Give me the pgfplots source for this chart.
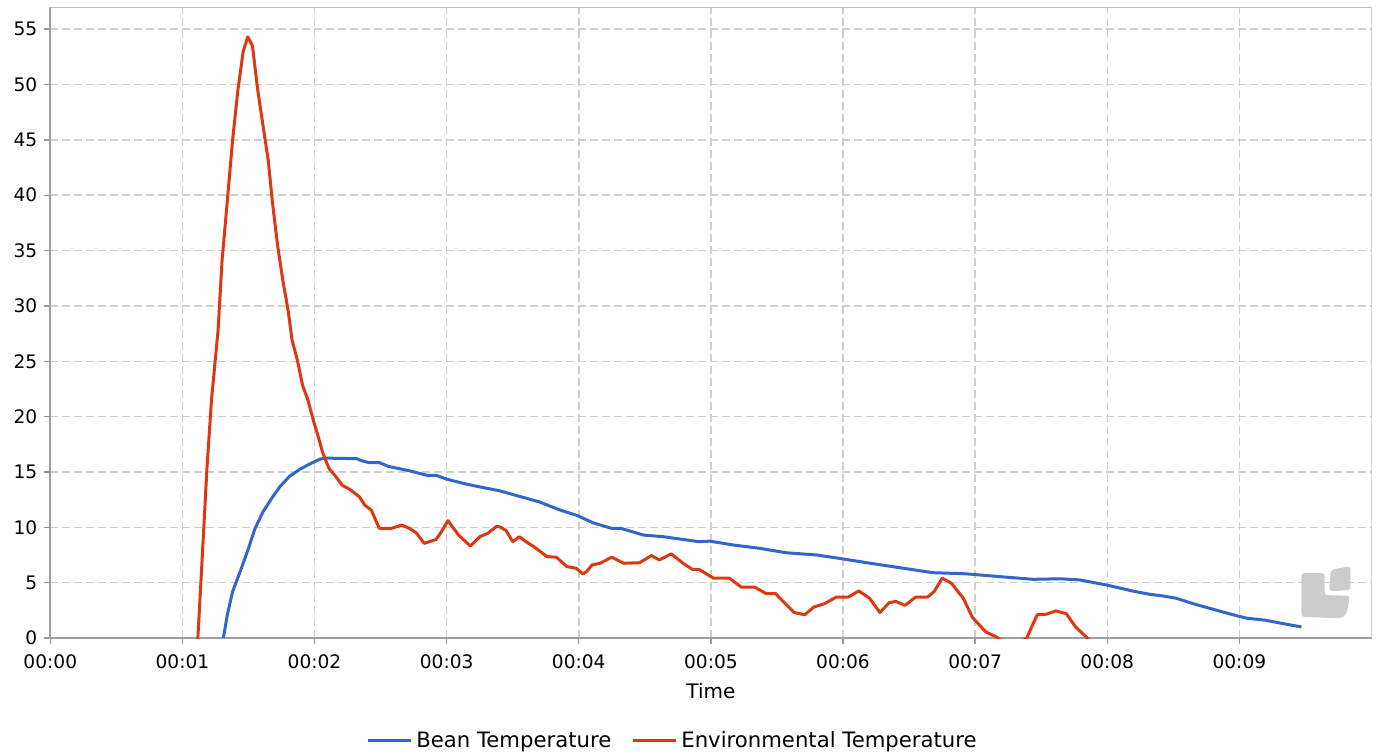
\documentclass[border=0pt]{standalone}
\usepackage{fontspec}
\setmainfont{DejaVu Sans}
\usepackage{pgfplots}
\pgfplotsset{compat=1.18}
\definecolor{beanblue}{HTML}{3366CC}
\definecolor{envred}{HTML}{DC3912}

\begin{document}
\begin{tikzpicture}
\useasboundingbox (-25.15pt,-59pt) rectangle (663.85pt,319pt);
\begin{axis}[
    at={(0,0)}, anchor=south west,
    scale only axis,
    width=660.6pt, height=315.5pt,
    xmin=0, xmax=10, ymin=0, ymax=57,
    axis lines=left,
    axis line style={-, gray!75, line width=0.9pt},
    xtick={0,...,9},
    xticklabels={00:00,00:01,00:02,00:03,00:04,00:05,00:06,00:07,00:08,00:09},
    ytick={0,5,...,55},
    tick align=outside,
    major tick length=3pt,
    tick style={gray!80, line width=0.7pt},
    grid=major,
    major grid style={gray!38, line width=0.75pt, dash pattern=on 4pt off 2pt},
    ticklabel style={font=\fontsize{9.3}{10}\selectfont},
    xticklabel style={yshift=-2pt},
    /pgf/number format/assume math mode=true,
    xlabel={Time},
    xlabel style={font=\fontsize{10}{11}\selectfont, at={(0.5,-0.0845)}, anchor=center},
    legend columns=2,
    legend style={draw=none, fill=none, at={(0.4717,-0.1632)}, anchor=center,
        font=\fontsize{10.6}{11}\selectfont,
        /tikz/every even column/.append style={column sep=8pt}},
    legend image code/.code={\draw[#1] (0pt,0pt) -- (21.5pt,0pt);},
]
\addplot[beanblue, line width=1.5pt, line join=round] coordinates {
(1.31,0) (1.34,2.1) (1.38,4.2) (1.44,6.1) (1.50,8.1) (1.55,9.9)
(1.61,11.4) (1.68,12.7) (1.74,13.7) (1.81,14.6) (1.89,15.25) (1.96,15.7)
(2.04,16.15) (2.08,16.25) (2.32,16.2) (2.36,16.0) (2.41,15.85) (2.49,15.85)
(2.56,15.5) (2.72,15.1) (2.85,14.7) (2.92,14.7) (3.00,14.35) (3.15,13.9)
(3.25,13.65) (3.40,13.3) (3.55,12.8) (3.70,12.3) (3.86,11.55) (3.98,11.1)
(4.11,10.4) (4.25,9.9) (4.32,9.9) (4.49,9.3) (4.64,9.15) (4.79,8.9)
(4.91,8.7) (4.99,8.75) (5.17,8.4) (5.37,8.1) (5.57,7.7) (5.80,7.5)
(5.97,7.2) (6.18,6.8) (6.43,6.35) (6.68,5.9) (6.93,5.8) (7.18,5.55)
(7.44,5.3) (7.64,5.35) (7.79,5.25) (7.99,4.8) (8.19,4.25) (8.32,3.95)
(8.42,3.8) (8.52,3.6) (8.65,3.1) (8.80,2.6) (8.92,2.2) (9.05,1.8)
(9.20,1.6) (9.33,1.3) (9.47,1.0)
};
\addlegendentry{Bean Temperature}
\addplot[envred, line width=1.5pt, line join=round] coordinates {
(1.10,-1) (1.117,0) (1.155,8.4) (1.185,15.2) (1.22,21.5) (1.27,27.8) (1.30,34.1)
(1.34,39.5) (1.38,45) (1.42,49.5) (1.46,53) (1.495,54.3) (1.53,53.5)
(1.57,49.5) (1.61,46.3) (1.65,43.1) (1.68,39.5) (1.72,35.5) (1.76,32.3)
(1.80,29.6) (1.83,26.9) (1.87,25.1) (1.91,22.8) (1.95,21.5) (1.99,19.7)
(2.03,18.1) (2.06,16.8) (2.11,15.3) (2.16,14.6) (2.21,13.8) (2.27,13.4)
(2.34,12.75) (2.38,12.0) (2.43,11.55) (2.49,9.9) (2.58,9.9) (2.66,10.2)
(2.72,9.9) (2.77,9.5) (2.83,8.55) (2.92,8.9) (2.96,9.6) (3.01,10.6)
(3.09,9.3) (3.18,8.3) (3.25,9.15) (3.31,9.45) (3.38,10.1) (3.41,10.0)
(3.45,9.7) (3.50,8.7) (3.55,9.15) (3.60,8.7) (3.66,8.25) (3.76,7.35)
(3.83,7.3) (3.91,6.45) (3.98,6.3) (4.03,5.8) (4.06,6.0) (4.10,6.6)
(4.16,6.75) (4.25,7.3) (4.34,6.75) (4.46,6.8) (4.55,7.45) (4.61,7.05)
(4.70,7.6) (4.79,6.75) (4.86,6.2) (4.91,6.2) (5.02,5.4) (5.14,5.4)
(5.23,4.6) (5.33,4.6) (5.42,4.0) (5.49,4.0) (5.63,2.3) (5.71,2.1)
(5.78,2.8) (5.86,3.1) (5.95,3.7) (6.04,3.7) (6.12,4.25) (6.20,3.6)
(6.28,2.3) (6.35,3.2) (6.40,3.3) (6.47,2.95) (6.55,3.7) (6.64,3.7)
(6.69,4.2) (6.75,5.4) (6.82,4.95) (6.91,3.6) (6.98,1.85) (7.08,0.55)
(7.16,0.1) (7.27,-0.8) (7.39,0) (7.47,2.1) (7.54,2.15) (7.61,2.45)
(7.69,2.2) (7.76,1.0) (7.84,0.1) (7.90,-0.6)
};
\addlegendentry{Environmental Temperature}
% light frame on top and right
\draw[gray!50, line width=0.8pt] (rel axis cs:0,1) -- (rel axis cs:1,1) -- (rel axis cs:1,0);
% watermark logo
\fill[gray!40, rounded corners=1.5pt]
  (rel axis cs:0.9470,0.1030) -- (rel axis cs:0.9645,0.1030)
  -- (rel axis cs:0.9645,0.0680) -- (rel axis cs:0.9837,0.0670)
  [rounded corners=4pt] -- (rel axis cs:0.9805,0.0310)
  [rounded corners=1.5pt] -- (rel axis cs:0.9470,0.0335) -- cycle;
\fill[gray!40, rounded corners=1.5pt]
  (rel axis cs:0.9692,0.1080) -- (rel axis cs:0.9840,0.1140)
  -- (rel axis cs:0.9840,0.0760) -- (rel axis cs:0.9680,0.0740) -- cycle;
\end{axis}
\end{tikzpicture}
\end{document}
